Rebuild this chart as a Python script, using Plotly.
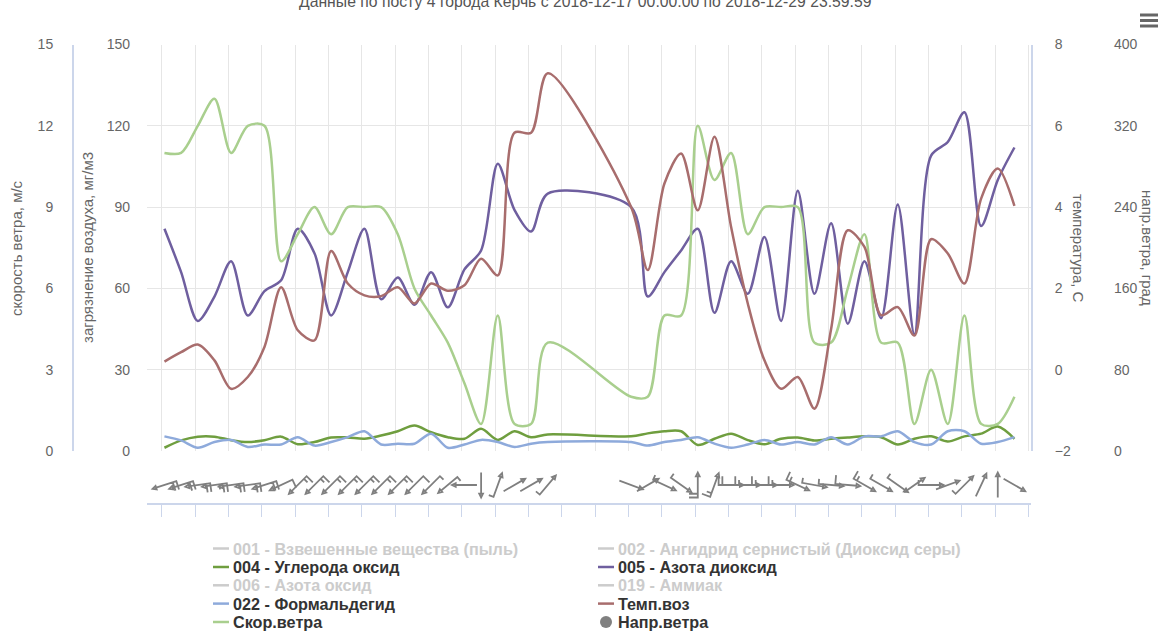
import math
from datetime import datetime, timedelta
import plotly.graph_objects as go

# ---------------------------------------------------------------- data
times = [
    "2018-12-17 01:00", "2018-12-17 07:00", "2018-12-17 13:00", "2018-12-17 19:00",
    "2018-12-18 01:00", "2018-12-18 07:00", "2018-12-18 13:00", "2018-12-18 19:00",
    "2018-12-19 01:00", "2018-12-19 07:00", "2018-12-19 13:00", "2018-12-19 19:00",
    "2018-12-20 01:00", "2018-12-20 07:00", "2018-12-20 13:00", "2018-12-20 19:00",
    "2018-12-21 01:00", "2018-12-21 07:00", "2018-12-21 13:00", "2018-12-21 19:00",
    "2018-12-22 01:00", "2018-12-22 07:00", "2018-12-22 13:00", "2018-12-22 19:00",
    "2018-12-24 01:00", "2018-12-24 07:00", "2018-12-24 13:00", "2018-12-24 19:00",
    "2018-12-25 01:00", "2018-12-25 07:00", "2018-12-25 13:00", "2018-12-25 19:00",
    "2018-12-26 01:00", "2018-12-26 07:00", "2018-12-26 13:00", "2018-12-26 19:00",
    "2018-12-27 01:00", "2018-12-27 07:00", "2018-12-27 13:00", "2018-12-27 19:00",
    "2018-12-28 01:00", "2018-12-28 07:00", "2018-12-28 13:00", "2018-12-28 19:00",
    "2018-12-29 01:00", "2018-12-29 07:00", "2018-12-29 13:00", "2018-12-29 19:00",
]

# 004 - Углерода оксид, мг/м3
co = [1.2, 3.9, 5.3, 5.3, 4.0, 3.3, 4.0, 5.3, 2.5, 3.3, 5.0, 5.0,
      4.5, 5.7, 7.3, 9.4, 6.9, 5.1, 4.5, 8.2, 4.1, 7.3, 5.1, 6.1,
      5.4, 6.5, 7.3, 7.3, 2.2, 4.5, 6.4, 4.0, 2.5, 4.5, 5.0, 3.9,
      4.5, 5.0, 5.4, 5.1, 2.4, 4.5, 5.4, 3.5, 5.4, 6.4, 9.0, 4.5]

# 005 - Азота диоксид
no2 = [82, 66, 48, 57, 70, 50, 59, 63, 82, 73, 50, 66,
       82, 56, 64, 54, 66, 53, 67, 74, 106, 89, 81, 95,
       90, 57, 66, 74, 82, 51, 70, 58, 79, 48, 96, 58,
       84, 47, 70, 49, 91, 43, 109, 114, 125, 83, 100, 112]

# 022 - Формальдегид
ch2o = [5.4, 3.9, 1.2, 3.3, 4.1, 1.5, 2.4, 2.4, 5.1, 2.0, 3.3, 5.1,
        7.3, 2.4, 2.7, 2.7, 6.4, 1.2, 2.4, 4.1, 3.3, 1.5, 2.7, 3.3,
        3.3, 2.0, 3.3, 4.1, 5.1, 2.7, 1.2, 2.4, 4.1, 2.4, 3.3, 2.4,
        5.1, 2.4, 5.4, 5.4, 7.3, 3.3, 2.4, 7.3, 7.3, 2.7, 3.3, 5.1]

# Темп.воз, °C
temp = [0.2, 0.43, 0.62, 0.23, -0.47, -0.18, 0.56, 2.03, 0.97, 0.72, 2.92, 2.12,
        1.83, 1.81, 2.03, 1.63, 2.12, 1.94, 2.08, 2.73, 2.32, 5.83, 5.83, 7.29,
        4.0, 2.45, 4.58, 5.32, 3.92, 5.73, 3.51, 1.63, 0.23, -0.47, -0.18, -0.96,
        1.0, 3.43, 3.02, 1.34, 1.54, 0.84, 3.21, 2.86, 2.12, 4.21, 4.95, 4.03]

# Скор.ветра, м/с
wind_speed = [11, 11, 12, 13, 11, 12, 12, 7, 8, 9, 8, 9,
              9, 9, 8, 6, 5, 4, 2.5, 1, 5, 1, 1, 4,
              2, 2, 5, 5, 12, 10, 11, 8, 9, 9, 9, 4,
              4, 6, 8, 4, 4, 1, 3, 1, 5, 1, 1, 2]

# Напр.ветра, град (откуда дует)
wind_dir = [72, 72, 82, 82, 82, 82, 72, 65, 45, 45, 45, 45,
            45, 45, 45, 45, 45, 50, 90, 0, 200, 240, 240, 220,
            290, 240, 295, 305, 180, 200, 270, 270, 270, 270, 295, 280,
            275, 275, 300, 300, 305, 235, 270, 250, 225, 205, 180, 300]

legend_left = [
    ("001 - Взвешенные вещества (пыль)", None),
    ("004 - Углерода оксид", "#6f9e3f"),
    ("006 - Азота оксид", None),
    ("022 - Формальдегид", "#8eaadb"),
    ("Скор.ветра", "#a9cf8e"),
]
legend_right = [
    ("002 - Ангидрид сернистый (Диоксид серы)", None),
    ("005 - Азота диоксид", "#6f5f9f"),
    ("019 - Аммиак", None),
    ("Темп.воз", "#a86d6d"),
    ("Напр.ветра", "circle"),
]

TITLE = "Данные по посту 4 города Керчь с 2018-12-17 00:00:00 по 2018-12-29 23:59:59"

# ---------------------------------------------------------------- geometry
W, H = 1165, 633
PLOT_L, PLOT_R, PLOT_T, PLOT_B = 147, 1031, 44.5, 451
PANE_T, PANE_B = 467, 503
T0 = datetime(2018, 12, 17)
TICK0_PX = 161.67
PX_PER_HOUR = 33.333 / 12.0

GREY_TXT = "#666666"
DARK_TXT = "#333333"
HIDDEN = "#cccccc"
AXIS_LINE = "#ccd6eb"
GRID = "#e6e6e6"
FONT = "Liberation Sans, Arial, sans-serif"


def px_to_time(px):
    t = T0 + timedelta(hours=(px - TICK0_PX) / PX_PER_HOUR)
    return t.strftime("%Y-%m-%d %H:%M:%S.%f")


def fx(px):
    return px / W


def fy(py):
    return 1 - py / H


x_range = [px_to_time(PLOT_L), px_to_time(PLOT_R)]
x_domain = [fx(PLOT_L), fx(PLOT_R)]
main_domain = [fy(PLOT_B), fy(PLOT_T)]
pane_domain = [fy(PANE_B), fy(PANE_T)]
DTICK = 12 * 3600 * 1000

fig = go.Figure()

LINE_W = 2.5
SMOOTH = 0.85
series = [
    ("004 - Углерода оксид", co, "y", "#6f9e3f"),
    ("005 - Азота диоксид", no2, "y", "#6f5f9f"),
    ("022 - Формальдегид", ch2o, "y", "#8eaadb"),
    ("Темп.воз", temp, "y3", "#a86d6d"),
    ("Скор.ветра", wind_speed, "y2", "#a9cf8e"),
]
for name, vals, yax, color in series:
    fig.add_trace(go.Scatter(x=times, y=vals, yaxis=yax, name=name, mode="lines",
                             line=dict(color=color, width=LINE_W, shape="spline",
                                       smoothing=SMOOTH)))

# ---------------------------------------------------------------- wind barbs
BARB_U = 1.25
BEAUFORT_FLOOR = 0.3


def barb_path(speed, direction, u=BARB_U):
    """Wind barb glyph: stem with arrow head downwind, feathers upwind."""
    if speed < BEAUFORT_FLOOR:
        return None
    knots = speed * 1.943844
    subpaths = [[(0, 7 * u), (-1.5 * u, 7 * u), (0, 10 * u), (1.5 * u, 7 * u),
                 (0, 7 * u), (0, -10 * u)]]
    pos = -10
    n = int((knots - knots % 50) / 50)
    for _ in range(n):
        pts = [(0, pos * u), (5 * u, pos * u + 2), (0, pos * u + 4)]
        if pos == -10:
            subpaths[0].extend(pts[1:])
        else:
            subpaths.append(pts)
        knots -= 50
        pos += 7
    n = int((knots - knots % 10) / 10)
    for _ in range(n):
        pts = [(0, pos * u), (7 * u, pos * u)]
        if pos == -10:
            subpaths[0].extend(pts[1:])
        else:
            subpaths.append(pts)
        knots -= 10
        pos += 3
    n = int((knots - knots % 5) / 5)
    for _ in range(n):
        pts = [(0, pos * u), (4 * u, pos * u)]
        if pos == -10:
            subpaths[0].extend(pts[1:])
        else:
            subpaths.append(pts)
        knots -= 5
        pos += 3
    a = math.radians(direction)
    ca, sa = math.cos(a), math.sin(a)
    out = []
    for sp in subpaths:
        for k, (x, y) in enumerate(sp):
            xr = x * ca - y * sa
            yr = x * sa + y * ca
            # shape pixel offsets are measured upwards
            out.append(("M" if k == 0 else "L") + f"{xr:.2f},{-yr:.2f}")
    return " ".join(out)


shapes = []
for t, s, d in zip(times, wind_speed, wind_dir):
    p = barb_path(s, d)
    if p is None:
        continue
    shapes.append(dict(type="path", xref="x2", yref="y5",
                       xsizemode="pixel", ysizemode="pixel",
                       xanchor=t, yanchor=0.5, path=p,
                       line=dict(color="#7f7f7f", width=1.8)))

# ---------------------------------------------------------------- legend
annotations = []
ROWS = [548.5, 567, 585.3, 603.6, 622]
for col_x, items in ((213, legend_left), (598, legend_right)):
    for row_y, (label, color) in zip(ROWS, items):
        txt_color = DARK_TXT if color else HIDDEN
        if color == "circle":
            shapes.append(dict(type="circle", xref="paper", yref="paper",
                               x0=fx(col_x + 2), x1=fx(col_x + 14),
                               y0=fy(row_y + 6), y1=fy(row_y - 6),
                               fillcolor="#808080", line=dict(width=0)))
        else:
            shapes.append(dict(type="line", xref="paper", yref="paper",
                               x0=fx(col_x), x1=fx(col_x + 16),
                               y0=fy(row_y), y1=fy(row_y),
                               line=dict(color=color if color else HIDDEN, width=2.5)))
        annotations.append(dict(text=label, xref="paper", yref="paper",
                                x=fx(col_x + 18), y=fy(row_y), xanchor="left",
                                yanchor="middle", showarrow=False,
                                font=dict(family=FONT, size=16.2, color=txt_color,
                                          weight="bold")))

# axis titles
annotations += [
    dict(text="скорость ветра, м/с", x=fx(16), y=fy(248), textangle=-90),
    dict(text="загрязнение воздуха, мг/м3", x=fx(87), y=fy(248), textangle=-90),
    dict(text="температура, С", x=fx(1079), y=fy(248), textangle=90),
    dict(text="напр.ветра, град", x=fx(1148), y=fy(248), textangle=90),
]
for a in annotations[-4:]:
    a.update(xref="paper", yref="paper", xanchor="center", yanchor="middle",
             showarrow=False, font=dict(family=FONT, size=15, color=GREY_TXT))

# chart title (partly above the page top)
annotations.append(dict(text=TITLE, xref="paper", yref="paper", x=fx(585), y=fy(1),
                        xanchor="center", yanchor="middle", showarrow=False,
                        font=dict(family=FONT, size=15.75, color="#555555")))

# export menu icon
for by in (15, 20.5, 26):
    shapes.append(dict(type="rect", xref="paper", yref="paper",
                       x0=fx(1140), x1=fx(1158), y0=fy(by + 1.5), y1=fy(by - 1.5),
                       fillcolor="#666666", line=dict(width=0)))

tick_font = dict(family=FONT, size=14, color=GREY_TXT)

fig.update_layout(
    width=W, height=H, autosize=False,
    margin=dict(l=0, r=0, t=0, b=0, autoexpand=False),
    paper_bgcolor="white", plot_bgcolor="white",
    font=dict(family=FONT),
    showlegend=False,
    xaxis=dict(type="date", range=x_range, domain=x_domain, anchor="y",
               tick0="2018-12-17 00:00", dtick=DTICK, showticklabels=False,
               ticks="", showgrid=True, gridcolor=GRID, gridwidth=1,
               showline=False, zeroline=False, fixedrange=True, automargin=False),
    xaxis2=dict(type="date", matches="x", domain=x_domain, anchor="y5",
                tick0="2018-12-17 00:00", dtick=DTICK, showticklabels=False,
                ticks="outside", ticklen=12, tickwidth=1, tickcolor=AXIS_LINE,
                showgrid=False, showline=True, linecolor=AXIS_LINE, linewidth=1.5,
                zeroline=False, automargin=False),
    yaxis=dict(domain=main_domain, range=[0, 150], dtick=30, anchor="x",
               side="left", showgrid=True, gridcolor=GRID, gridwidth=1,
               zeroline=False, showline=False, tickfont=tick_font,
               ticks="", ticklabelstandoff=16, automargin=False),
    yaxis2=dict(overlaying="y", anchor="free", position=fx(73), side="left",
                range=[0, 15], dtick=3, showgrid=False, zeroline=False,
                showline=True, linecolor=AXIS_LINE, linewidth=2,
                tickfont=tick_font, ticks="", ticklabelstandoff=16, automargin=False),
    yaxis3=dict(overlaying="y", anchor="x", side="right", range=[-2, 8], dtick=2,
                showgrid=False, zeroline=False, showline=True, linecolor=AXIS_LINE,
                linewidth=2, tickfont=tick_font, ticks="", ticklabelstandoff=19,
                automargin=False),
    yaxis4=dict(overlaying="y", anchor="free", position=fx(1100), side="right",
                range=[0, 400], dtick=80, showgrid=False, zeroline=False,
                showline=False, tickfont=tick_font, ticks="", ticklabelstandoff=13,
                automargin=False),
    yaxis5=dict(domain=pane_domain, range=[0, 1], anchor="x2", visible=False,
                fixedrange=True),
    shapes=shapes,
    annotations=annotations,
)

# invisible anchors keep the direction axis and the barb pane drawn
fig.add_trace(go.Scatter(x=[times[0]], y=[0], yaxis="y4", mode="markers",
                         marker=dict(opacity=0), hoverinfo="skip",
                         name="Напр.ветра"))
fig.add_trace(go.Scatter(x=[times[0]], y=[0.5], xaxis="x2", yaxis="y5",
                         mode="markers", marker=dict(opacity=0), hoverinfo="skip"))

fig.write_html("out.html", config={"displayModeBar": False})
